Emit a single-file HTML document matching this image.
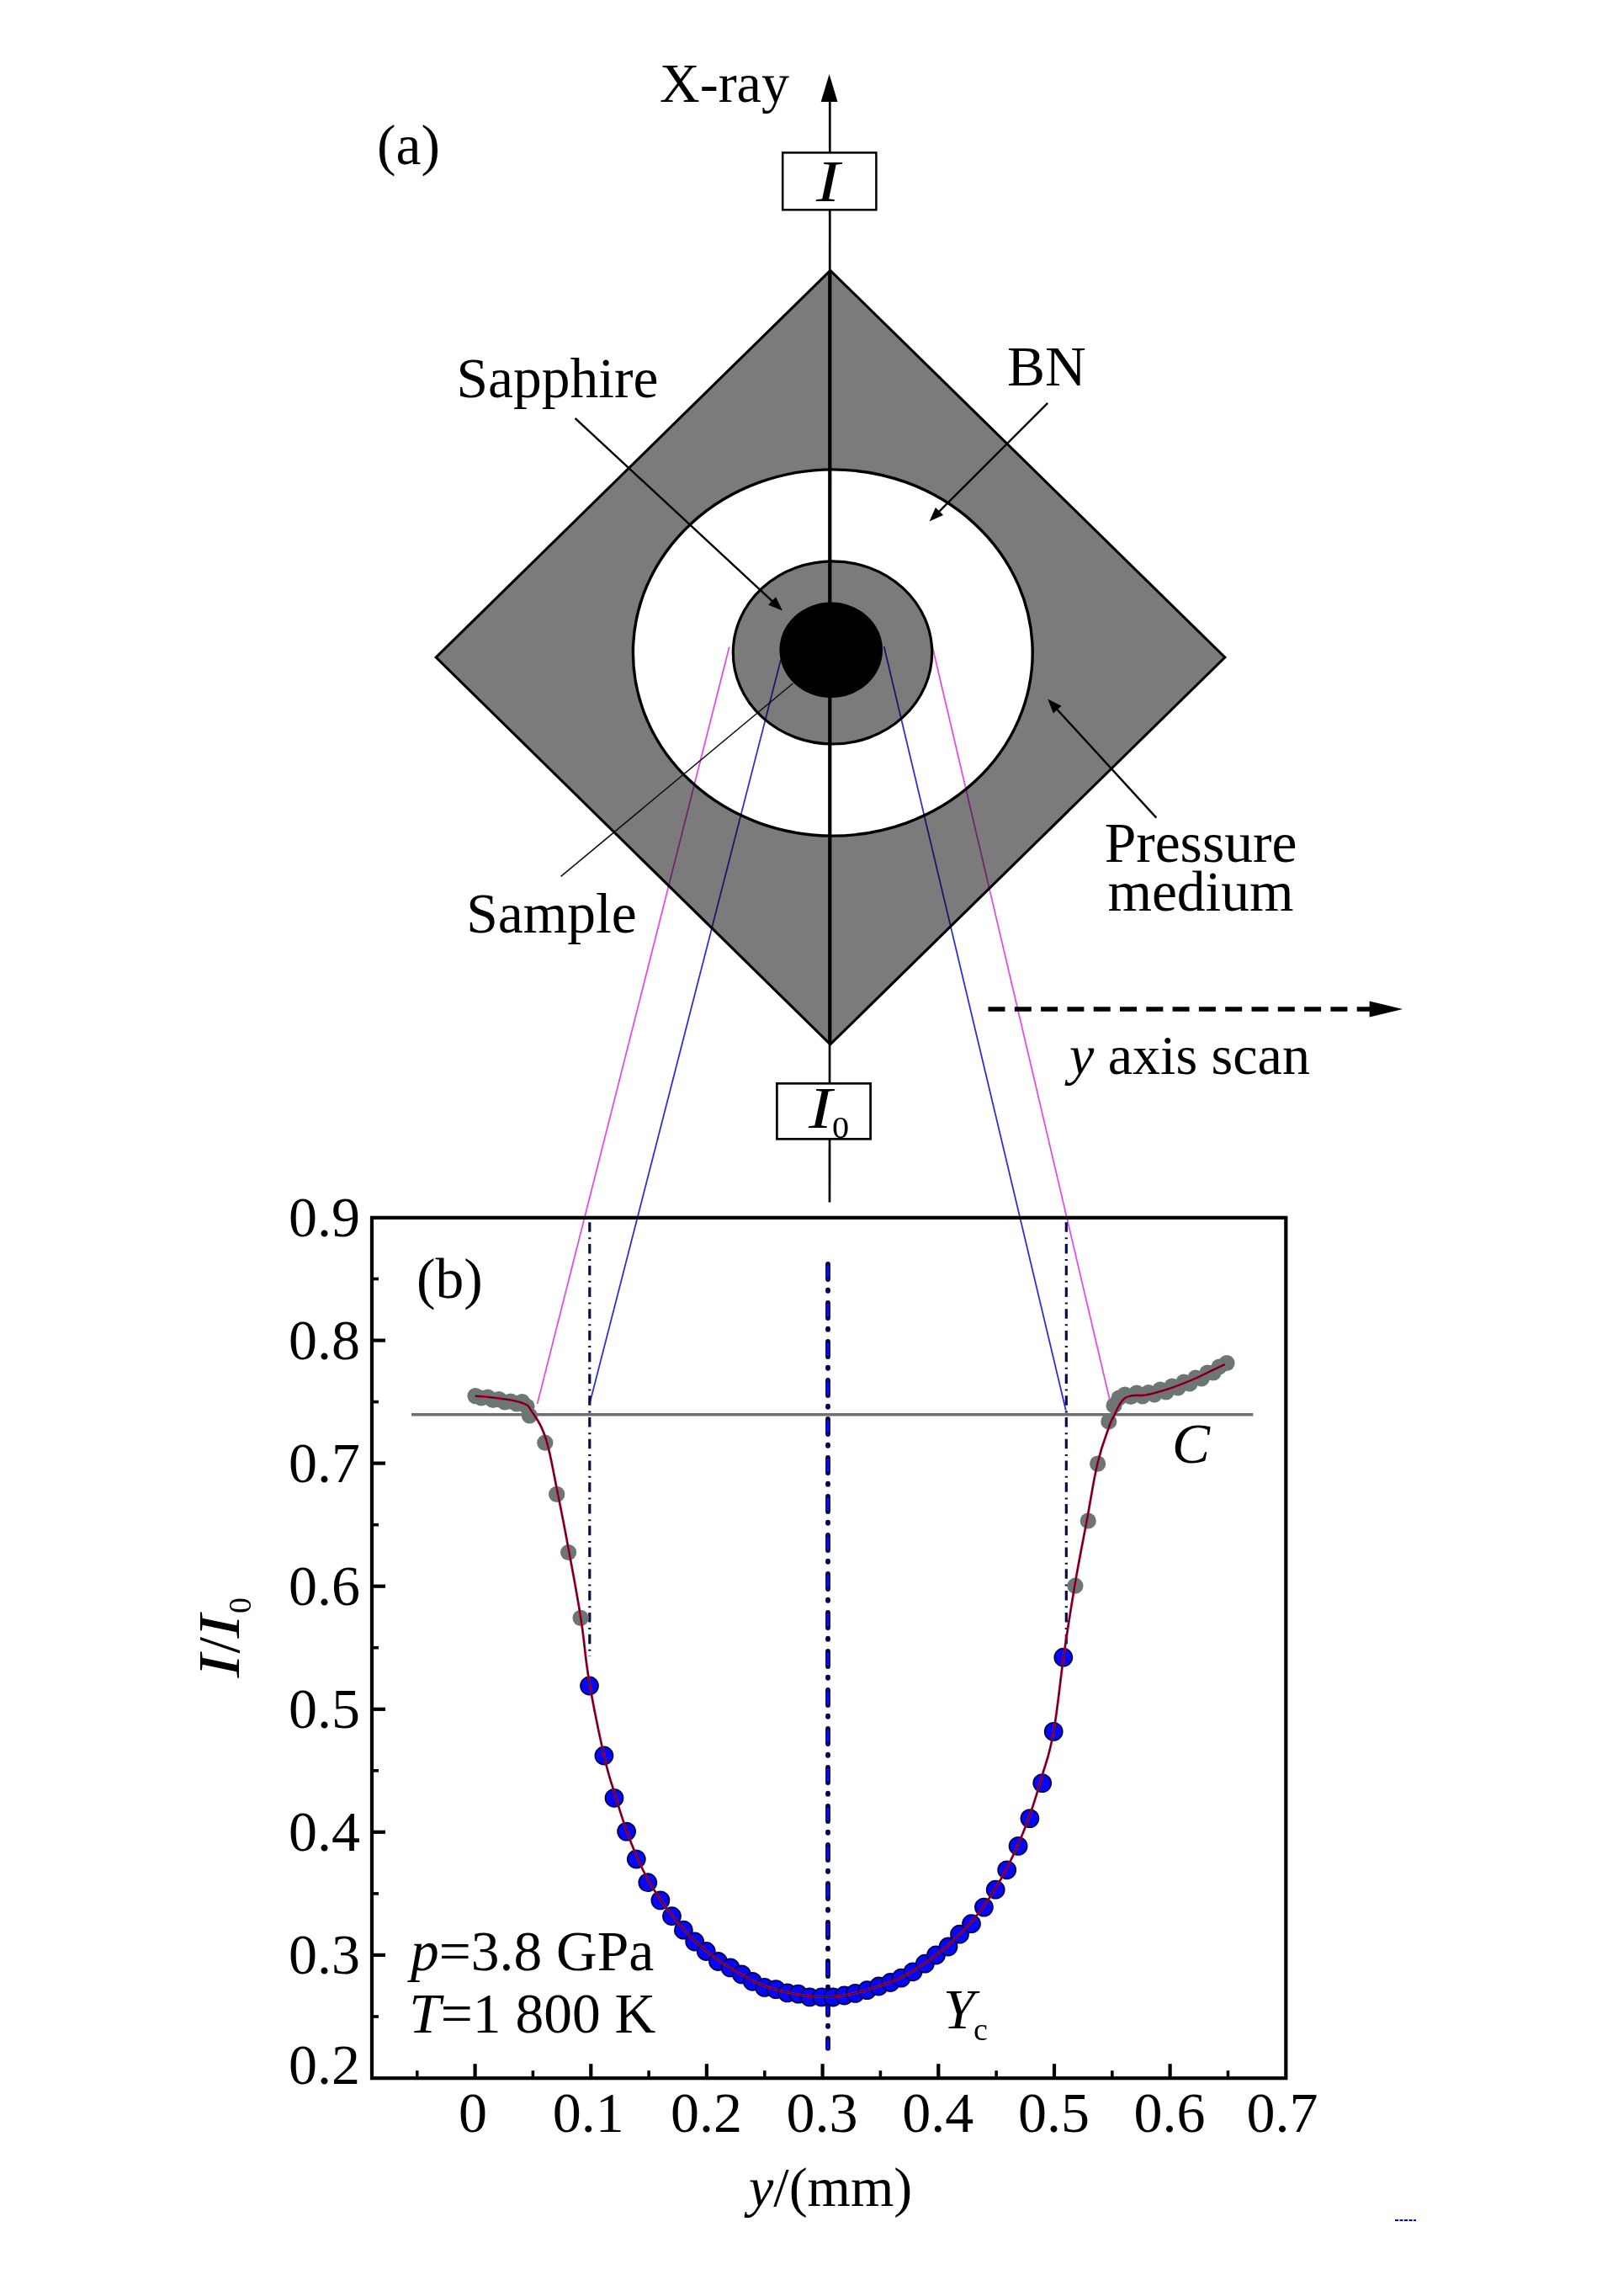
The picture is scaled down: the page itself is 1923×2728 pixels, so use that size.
<!DOCTYPE html>
<html><head><meta charset="utf-8"><title>Figure</title>
<style>html,body{margin:0;padding:0;background:#fff;}svg{display:block;}</style>
</head><body>
<svg width="1923" height="2728" viewBox="0 0 1923 2728"><polygon points="986.8,321.3 1455.8,781 986.8,1240.9 518.2,781" fill="#7b7b7b" stroke="#000" stroke-width="3.1" stroke-linejoin="miter"/>
<ellipse cx="989.8" cy="775.5" rx="237.4" ry="217.6" fill="#fff" stroke="#000" stroke-width="3.4"/>
<ellipse cx="989.5" cy="775.4" rx="118.2" ry="108.6" fill="#7b7b7b" stroke="#000" stroke-width="3.2"/>
<ellipse cx="987.7" cy="772.3" rx="61.3" ry="56.7" fill="#000"/>
<line x1="986.3" y1="110" x2="986.0" y2="1428.6" stroke="#000" stroke-width="2.7"/>
<line x1="986.3" y1="322" x2="986.3" y2="1240" stroke="#000" stroke-width="4.2"/>
<polygon points="985.6,88.1 995.5,121 975.7,121" fill="#000"/>
<rect x="930.2" y="181.4" width="111.2" height="67.9" fill="#fff" stroke="#000" stroke-width="2.5"/>
<rect x="923.4" y="1287.3" width="111.2" height="66.0" fill="#fff" stroke="#000" stroke-width="2.7"/>
<text id="xray" x="784" y="120.6" font-family="&apos;Liberation Serif&apos;, &apos;Times New Roman&apos;, serif" font-size="66">X-ray</text>
<text id="a" x="448" y="195" font-family="&apos;Liberation Serif&apos;, &apos;Times New Roman&apos;, serif" font-size="67.5">(a)</text>
<text id="Ibox" transform="translate(984,239) scale(1.2,1)" x="0" y="0" font-family="&apos;Liberation Serif&apos;, &apos;Times New Roman&apos;, serif" font-size="70" font-style="italic" text-anchor="middle">I</text>
<text id="I0I" transform="translate(961,1340.2) scale(1.2,1)" x="0" y="0" font-family="&apos;Liberation Serif&apos;, &apos;Times New Roman&apos;, serif" font-size="70" font-style="italic">I</text>
<text id="I0s" transform="translate(989,1351.9) scale(1.15,1)" x="0" y="0" font-family="&apos;Liberation Serif&apos;, &apos;Times New Roman&apos;, serif" font-size="35">0</text>
<text id="sapph" x="542.5" y="471.8" font-family="&apos;Liberation Serif&apos;, &apos;Times New Roman&apos;, serif" font-size="67.5">Sapphire</text>
<text id="bn" x="1197" y="457.6" font-family="&apos;Liberation Serif&apos;, &apos;Times New Roman&apos;, serif" font-size="67.5">BN</text>
<text id="sample" x="554.3" y="1108.1" font-family="&apos;Liberation Serif&apos;, &apos;Times New Roman&apos;, serif" font-size="67.5">Sample</text>
<text id="press" x="1427" y="1024.3" font-family="&apos;Liberation Serif&apos;, &apos;Times New Roman&apos;, serif" font-size="67.5" text-anchor="middle">Pressure</text>
<text id="medium" x="1427" y="1082.1" font-family="&apos;Liberation Serif&apos;, &apos;Times New Roman&apos;, serif" font-size="67.5" text-anchor="middle">medium</text>
<text id="yscan" x="1271" y="1276.1" font-family="&apos;Liberation Serif&apos;, &apos;Times New Roman&apos;, serif" font-size="66"><tspan font-style="italic">y</tspan> axis scan</text>
<line x1="683.6" y1="497.0" x2="919.0" y2="715.3" stroke="#000" stroke-width="2.4"/>
<polygon points="930.0,725.5 913.1,718.7 922.0,709.2" fill="#000"/>
<line x1="1245.2" y1="478.9" x2="1115.1" y2="608.9" stroke="#000" stroke-width="2.4"/>
<polygon points="1104.5,619.5 1111.9,602.9 1121.1,612.1" fill="#000"/>
<line x1="1374.3" y1="971.6" x2="1255.3" y2="841.7" stroke="#000" stroke-width="2.4"/>
<polygon points="1245.2,830.6 1261.5,838.7 1251.9,847.5" fill="#000"/>
<line x1="942.4" y1="812" x2="666.6" y2="1041.4" stroke="#111" stroke-width="1.6"/>
<line x1="1174.5" y1="1199" x2="1628" y2="1199" stroke="#000" stroke-width="5.5" stroke-dasharray="20 11.3"/>
<polygon points="1667.1,1199 1627.6,1189.6 1627.6,1208.4" fill="#000"/>
<line x1="866.7" y1="768.7" x2="638.6" y2="1668" stroke="#e050e0" stroke-width="1.8" style="mix-blend-mode:multiply"/>
<line x1="927.9" y1="784.1" x2="700.8" y2="1667.8" stroke="#3030d0" stroke-width="1.8" style="mix-blend-mode:multiply"/>
<line x1="1104.6" y1="753.2" x2="1321.3" y2="1673.5" stroke="#e050e0" stroke-width="1.8" style="mix-blend-mode:multiply"/>
<line x1="1050.6" y1="768" x2="1266.8" y2="1675.7" stroke="#3030d0" stroke-width="1.8" style="mix-blend-mode:multiply"/>
<rect x="442.0" y="1446.8" width="1086.3" height="1022.3999999999999" fill="none" stroke="#000" stroke-width="4.2"/>
<text id="yl2" x="428" y="2476" font-family="&apos;Liberation Serif&apos;, &apos;Times New Roman&apos;, serif" font-size="68" text-anchor="end">0.2</text>
<line x1="442.0" y1="2396.0" x2="450.0" y2="2396.0" stroke="#000" stroke-width="3.6"/>
<line x1="442.0" y1="2322.9" x2="458.0" y2="2322.9" stroke="#000" stroke-width="4.2"/>
<text id="yl3" x="428" y="2344.9" font-family="&apos;Liberation Serif&apos;, &apos;Times New Roman&apos;, serif" font-size="68" text-anchor="end">0.3</text>
<line x1="442.0" y1="2249.9" x2="450.0" y2="2249.9" stroke="#000" stroke-width="3.6"/>
<line x1="442.0" y1="2176.8" x2="458.0" y2="2176.8" stroke="#000" stroke-width="4.2"/>
<text id="yl4" x="428" y="2198.8" font-family="&apos;Liberation Serif&apos;, &apos;Times New Roman&apos;, serif" font-size="68" text-anchor="end">0.4</text>
<line x1="442.0" y1="2103.8" x2="450.0" y2="2103.8" stroke="#000" stroke-width="3.6"/>
<line x1="442.0" y1="2030.8" x2="458.0" y2="2030.8" stroke="#000" stroke-width="4.2"/>
<text id="yl5" x="428" y="2052.8" font-family="&apos;Liberation Serif&apos;, &apos;Times New Roman&apos;, serif" font-size="68" text-anchor="end">0.5</text>
<line x1="442.0" y1="1957.7" x2="450.0" y2="1957.7" stroke="#000" stroke-width="3.6"/>
<line x1="442.0" y1="1884.7" x2="458.0" y2="1884.7" stroke="#000" stroke-width="4.2"/>
<text id="yl6" x="428" y="1906.7" font-family="&apos;Liberation Serif&apos;, &apos;Times New Roman&apos;, serif" font-size="68" text-anchor="end">0.6</text>
<line x1="442.0" y1="1811.7" x2="450.0" y2="1811.7" stroke="#000" stroke-width="3.6"/>
<line x1="442.0" y1="1738.6" x2="458.0" y2="1738.6" stroke="#000" stroke-width="4.2"/>
<text id="yl7" x="428" y="1760.6" font-family="&apos;Liberation Serif&apos;, &apos;Times New Roman&apos;, serif" font-size="68" text-anchor="end">0.7</text>
<line x1="442.0" y1="1665.6" x2="450.0" y2="1665.6" stroke="#000" stroke-width="3.6"/>
<line x1="442.0" y1="1592.6" x2="458.0" y2="1592.6" stroke="#000" stroke-width="4.2"/>
<text id="yl8" x="428" y="1614.6" font-family="&apos;Liberation Serif&apos;, &apos;Times New Roman&apos;, serif" font-size="68" text-anchor="end">0.8</text>
<line x1="442.0" y1="1519.5" x2="450.0" y2="1519.5" stroke="#000" stroke-width="3.6"/>
<text id="yl9" x="428" y="1468.5" font-family="&apos;Liberation Serif&apos;, &apos;Times New Roman&apos;, serif" font-size="68" text-anchor="end">0.9</text>
<line x1="564.6" y1="2469.2" x2="564.6" y2="2452.2" stroke="#000" stroke-width="4.2"/>
<text id="xl0" x="561.9" y="2533" font-family="&apos;Liberation Serif&apos;, &apos;Times New Roman&apos;, serif" font-size="68" text-anchor="middle">0</text>
<line x1="702.3" y1="2469.2" x2="702.3" y2="2452.2" stroke="#000" stroke-width="4.2"/>
<text id="xl1" x="699.3" y="2533" font-family="&apos;Liberation Serif&apos;, &apos;Times New Roman&apos;, serif" font-size="68" text-anchor="middle">0.1</text>
<line x1="839.9" y1="2469.2" x2="839.9" y2="2452.2" stroke="#000" stroke-width="4.2"/>
<text id="xl2" x="839.4" y="2533" font-family="&apos;Liberation Serif&apos;, &apos;Times New Roman&apos;, serif" font-size="68" text-anchor="middle">0.2</text>
<line x1="977.6" y1="2469.2" x2="977.6" y2="2452.2" stroke="#000" stroke-width="4.2"/>
<text id="xl3" x="977.1" y="2533" font-family="&apos;Liberation Serif&apos;, &apos;Times New Roman&apos;, serif" font-size="68" text-anchor="middle">0.3</text>
<line x1="1115.3" y1="2469.2" x2="1115.3" y2="2452.2" stroke="#000" stroke-width="4.2"/>
<text id="xl4" x="1114.8" y="2533" font-family="&apos;Liberation Serif&apos;, &apos;Times New Roman&apos;, serif" font-size="68" text-anchor="middle">0.4</text>
<line x1="1253.0" y1="2469.2" x2="1253.0" y2="2452.2" stroke="#000" stroke-width="4.2"/>
<text id="xl5" x="1252.5" y="2533" font-family="&apos;Liberation Serif&apos;, &apos;Times New Roman&apos;, serif" font-size="68" text-anchor="middle">0.5</text>
<line x1="1390.6" y1="2469.2" x2="1390.6" y2="2452.2" stroke="#000" stroke-width="4.2"/>
<text id="xl6" x="1390.1" y="2533" font-family="&apos;Liberation Serif&apos;, &apos;Times New Roman&apos;, serif" font-size="68" text-anchor="middle">0.6</text>
<text id="xl7" x="1523.9" y="2533" font-family="&apos;Liberation Serif&apos;, &apos;Times New Roman&apos;, serif" font-size="68" text-anchor="middle">0.7</text>
<line x1="495.8" y1="2469.2" x2="495.8" y2="2460.2" stroke="#000" stroke-width="3.6"/>
<line x1="633.4" y1="2469.2" x2="633.4" y2="2460.2" stroke="#000" stroke-width="3.6"/>
<line x1="771.1" y1="2469.2" x2="771.1" y2="2460.2" stroke="#000" stroke-width="3.6"/>
<line x1="908.8" y1="2469.2" x2="908.8" y2="2460.2" stroke="#000" stroke-width="3.6"/>
<line x1="1046.4" y1="2469.2" x2="1046.4" y2="2460.2" stroke="#000" stroke-width="3.6"/>
<line x1="1184.1" y1="2469.2" x2="1184.1" y2="2460.2" stroke="#000" stroke-width="3.6"/>
<line x1="1321.8" y1="2469.2" x2="1321.8" y2="2460.2" stroke="#000" stroke-width="3.6"/>
<line x1="1459.5" y1="2469.2" x2="1459.5" y2="2460.2" stroke="#000" stroke-width="3.6"/>
<line x1="489" y1="1680.7" x2="1489.3" y2="1680.7" stroke="#6f6f6f" stroke-width="3.6"/>
<line x1="700.8" y1="1452.2" x2="700.8" y2="1968" stroke="#0c0c48" stroke-width="3.2" stroke-dasharray="11.5 6.6 2 5.66"/>
<line x1="1267.3" y1="1452.2" x2="1267.3" y2="1958" stroke="#0c0c48" stroke-width="3.2" stroke-dasharray="11.5 6.6 2 5.66"/>
<line x1="984.0" y1="1501.8" x2="984.0" y2="2433.7" stroke="#00004a" stroke-width="5.8" stroke-linecap="round" stroke-dasharray="18.2 12.6 1.2 14"/>
<line x1="984.0" y1="1501.8" x2="984.0" y2="2433.7" stroke="#0a0af0" stroke-width="3.4" stroke-linecap="round" stroke-dasharray="13 33" stroke-dashoffset="-2.6"/>
<circle cx="565" cy="1658.6" r="9.6" fill="#6d7575"/>
<circle cx="572" cy="1661" r="9.6" fill="#6d7575"/>
<circle cx="579.7" cy="1660" r="9.6" fill="#6d7575"/>
<circle cx="586" cy="1663.5" r="9.6" fill="#6d7575"/>
<circle cx="593" cy="1662.6" r="9.6" fill="#6d7575"/>
<circle cx="600" cy="1666" r="9.6" fill="#6d7575"/>
<circle cx="607" cy="1665" r="9.6" fill="#6d7575"/>
<circle cx="614" cy="1668" r="9.6" fill="#6d7575"/>
<circle cx="620.5" cy="1665.5" r="9.6" fill="#6d7575"/>
<circle cx="626" cy="1671" r="9.6" fill="#6d7575"/>
<circle cx="629.4" cy="1682" r="9.6" fill="#6d7575"/>
<circle cx="647.8" cy="1714.2" r="9.6" fill="#6d7575"/>
<circle cx="661.7" cy="1775.4" r="9.6" fill="#6d7575"/>
<circle cx="675.6" cy="1844.5" r="9.6" fill="#6d7575"/>
<circle cx="690.1" cy="1922.4" r="9.6" fill="#6d7575"/>
<circle cx="1277.9" cy="1884.2" r="9.6" fill="#6d7575"/>
<circle cx="1293.2" cy="1807" r="9.6" fill="#6d7575"/>
<circle cx="1304.6" cy="1739.1" r="9.6" fill="#6d7575"/>
<circle cx="1317.8" cy="1689" r="9.6" fill="#6d7575"/>
<circle cx="1324" cy="1670" r="9.6" fill="#6d7575"/>
<circle cx="1330" cy="1661" r="9.6" fill="#6d7575"/>
<circle cx="1337" cy="1657" r="9.6" fill="#6d7575"/>
<circle cx="1344" cy="1659.5" r="9.6" fill="#6d7575"/>
<circle cx="1351" cy="1655" r="9.6" fill="#6d7575"/>
<circle cx="1358" cy="1659" r="9.6" fill="#6d7575"/>
<circle cx="1365" cy="1654.5" r="9.6" fill="#6d7575"/>
<circle cx="1372" cy="1657" r="9.6" fill="#6d7575"/>
<circle cx="1379" cy="1651" r="9.6" fill="#6d7575"/>
<circle cx="1386" cy="1654" r="9.6" fill="#6d7575"/>
<circle cx="1393" cy="1647" r="9.6" fill="#6d7575"/>
<circle cx="1400" cy="1649" r="9.6" fill="#6d7575"/>
<circle cx="1407" cy="1642" r="9.6" fill="#6d7575"/>
<circle cx="1414" cy="1644" r="9.6" fill="#6d7575"/>
<circle cx="1421" cy="1637" r="9.6" fill="#6d7575"/>
<circle cx="1428" cy="1638" r="9.6" fill="#6d7575"/>
<circle cx="1435" cy="1631" r="9.6" fill="#6d7575"/>
<circle cx="1442" cy="1631" r="9.6" fill="#6d7575"/>
<circle cx="1449" cy="1624" r="9.6" fill="#6d7575"/>
<circle cx="1458" cy="1619.5" r="9.6" fill="#6d7575"/>
<circle cx="700.5" cy="2003.0" r="10.5" fill="#0606fa" stroke="#000058" stroke-width="1.8"/>
<circle cx="717.9" cy="2086.0" r="10.5" fill="#0606fa" stroke="#000058" stroke-width="1.8"/>
<circle cx="730.0" cy="2136.3" r="10.5" fill="#0606fa" stroke="#000058" stroke-width="1.8"/>
<circle cx="744.6" cy="2176.1" r="10.5" fill="#0606fa" stroke="#000058" stroke-width="1.8"/>
<circle cx="756.3" cy="2209.0" r="10.5" fill="#0606fa" stroke="#000058" stroke-width="1.8"/>
<circle cx="769.8" cy="2236.7" r="10.5" fill="#0606fa" stroke="#000058" stroke-width="1.8"/>
<circle cx="784.9" cy="2257.9" r="10.5" fill="#0606fa" stroke="#000058" stroke-width="1.8"/>
<circle cx="798.5" cy="2276.7" r="10.5" fill="#0606fa" stroke="#000058" stroke-width="1.8"/>
<circle cx="812.4" cy="2293.2" r="10.5" fill="#0606fa" stroke="#000058" stroke-width="1.8"/>
<circle cx="825.7" cy="2307.0" r="10.5" fill="#0606fa" stroke="#000058" stroke-width="1.8"/>
<circle cx="839.3" cy="2318.5" r="10.5" fill="#0606fa" stroke="#000058" stroke-width="1.8"/>
<circle cx="853.5" cy="2330.5" r="10.5" fill="#0606fa" stroke="#000058" stroke-width="1.8"/>
<circle cx="868.0" cy="2337.9" r="10.5" fill="#0606fa" stroke="#000058" stroke-width="1.8"/>
<circle cx="881.4" cy="2345.9" r="10.5" fill="#0606fa" stroke="#000058" stroke-width="1.8"/>
<circle cx="894.3" cy="2354.3" r="10.5" fill="#0606fa" stroke="#000058" stroke-width="1.8"/>
<circle cx="908.6" cy="2361.4" r="10.5" fill="#0606fa" stroke="#000058" stroke-width="1.8"/>
<circle cx="922.2" cy="2363.6" r="10.5" fill="#0606fa" stroke="#000058" stroke-width="1.8"/>
<circle cx="935.7" cy="2367.9" r="10.5" fill="#0606fa" stroke="#000058" stroke-width="1.8"/>
<circle cx="948.7" cy="2369.2" r="10.5" fill="#0606fa" stroke="#000058" stroke-width="1.8"/>
<circle cx="962.3" cy="2372.9" r="10.5" fill="#0606fa" stroke="#000058" stroke-width="1.8"/>
<circle cx="976.5" cy="2372.9" r="10.5" fill="#0606fa" stroke="#000058" stroke-width="1.8"/>
<circle cx="990.0" cy="2373.0" r="10.5" fill="#0606fa" stroke="#000058" stroke-width="1.8"/>
<circle cx="1003.5" cy="2371.0" r="10.5" fill="#0606fa" stroke="#000058" stroke-width="1.8"/>
<circle cx="1016.5" cy="2368.4" r="10.5" fill="#0606fa" stroke="#000058" stroke-width="1.8"/>
<circle cx="1030.5" cy="2364.7" r="10.5" fill="#0606fa" stroke="#000058" stroke-width="1.8"/>
<circle cx="1044.4" cy="2360.0" r="10.5" fill="#0606fa" stroke="#000058" stroke-width="1.8"/>
<circle cx="1058.3" cy="2355.5" r="10.5" fill="#0606fa" stroke="#000058" stroke-width="1.8"/>
<circle cx="1071.0" cy="2350.2" r="10.5" fill="#0606fa" stroke="#000058" stroke-width="1.8"/>
<circle cx="1085.0" cy="2342.8" r="10.5" fill="#0606fa" stroke="#000058" stroke-width="1.8"/>
<circle cx="1099.3" cy="2333.2" r="10.5" fill="#0606fa" stroke="#000058" stroke-width="1.8"/>
<circle cx="1112.5" cy="2323.0" r="10.5" fill="#0606fa" stroke="#000058" stroke-width="1.8"/>
<circle cx="1127.0" cy="2313.0" r="10.5" fill="#0606fa" stroke="#000058" stroke-width="1.8"/>
<circle cx="1140.5" cy="2298.2" r="10.5" fill="#0606fa" stroke="#000058" stroke-width="1.8"/>
<circle cx="1154.5" cy="2285.7" r="10.5" fill="#0606fa" stroke="#000058" stroke-width="1.8"/>
<circle cx="1169.4" cy="2266.1" r="10.5" fill="#0606fa" stroke="#000058" stroke-width="1.8"/>
<circle cx="1183.2" cy="2245.2" r="10.5" fill="#0606fa" stroke="#000058" stroke-width="1.8"/>
<circle cx="1196.7" cy="2221.8" r="10.5" fill="#0606fa" stroke="#000058" stroke-width="1.8"/>
<circle cx="1210.1" cy="2193.4" r="10.5" fill="#0606fa" stroke="#000058" stroke-width="1.8"/>
<circle cx="1223.9" cy="2160.6" r="10.5" fill="#0606fa" stroke="#000058" stroke-width="1.8"/>
<circle cx="1238.7" cy="2118.6" r="10.5" fill="#0606fa" stroke="#000058" stroke-width="1.8"/>
<circle cx="1252.2" cy="2057.4" r="10.5" fill="#0606fa" stroke="#000058" stroke-width="1.8"/>
<circle cx="1263.8" cy="1969.2" r="10.5" fill="#0606fa" stroke="#000058" stroke-width="1.8"/>
<path d="M564.8,1658.6 C570.4,1659.2 581.7,1659.8 593.0,1661.5 C604.3,1663.2 613.3,1663.9 621.2,1667.1 C629.1,1670.3 626.8,1669.1 632.3,1677.5 C637.8,1685.9 642.6,1690.1 648.6,1709.0 C654.6,1727.9 657.0,1745.8 662.4,1772.0 C667.8,1798.2 670.0,1809.6 675.6,1840.0 C681.2,1870.4 685.6,1892.4 690.5,1924.0 C695.4,1955.6 694.8,1965.6 700.3,1998.0 C705.8,2030.4 711.8,2059.2 717.9,2086.0 C724.0,2112.8 725.6,2114.6 730.8,2131.9 C735.9,2149.2 738.6,2157.7 743.8,2172.5 C749.0,2187.4 751.6,2194.0 756.9,2206.2 C762.2,2218.5 764.9,2223.7 770.4,2233.8 C775.9,2243.8 778.8,2248.1 784.5,2256.4 C790.1,2264.8 792.9,2268.4 798.5,2275.5 C804.0,2282.6 806.7,2285.8 812.2,2291.9 C817.7,2298.0 820.3,2300.7 825.8,2306.0 C831.3,2311.3 834.0,2313.7 839.6,2318.3 C845.1,2322.8 848.0,2324.9 853.6,2328.8 C859.2,2332.8 862.0,2334.4 867.6,2337.9 C873.1,2341.3 875.8,2342.9 881.2,2346.0 C886.7,2349.1 889.3,2350.8 894.8,2353.5 C900.2,2356.3 903.0,2357.5 908.4,2359.6 C913.9,2361.7 916.7,2362.4 922.1,2363.9 C927.5,2365.4 930.2,2365.9 935.5,2367.1 C940.9,2368.2 943.5,2368.8 948.9,2369.7 C954.3,2370.6 957.0,2371.1 962.5,2371.7 C968.0,2372.2 970.8,2372.5 976.3,2372.6 C981.8,2372.7 984.5,2372.6 989.9,2372.2 C995.3,2371.8 998.0,2371.4 1003.4,2370.6 C1008.8,2369.7 1011.4,2369.1 1016.8,2367.9 C1022.3,2366.6 1025.0,2365.9 1030.5,2364.3 C1036.0,2362.7 1038.8,2361.8 1044.3,2360.0 C1049.8,2358.1 1052.5,2357.2 1057.9,2355.1 C1063.4,2352.9 1066.0,2351.9 1071.4,2349.2 C1076.9,2346.6 1079.6,2345.1 1085.1,2341.8 C1090.6,2338.5 1093.4,2336.7 1099.0,2332.9 C1104.5,2329.0 1107.3,2327.0 1112.9,2322.7 C1118.4,2318.4 1121.2,2316.2 1126.7,2311.4 C1132.3,2306.5 1135.1,2304.0 1140.7,2298.3 C1146.3,2292.7 1149.1,2289.8 1154.8,2283.1 C1160.5,2276.4 1163.4,2272.9 1169.0,2265.0 C1174.7,2257.2 1177.5,2253.0 1183.0,2243.9 C1188.5,2234.8 1191.2,2230.1 1196.7,2219.5 C1202.1,2208.9 1204.8,2203.6 1210.3,2190.9 C1215.8,2178.1 1218.6,2171.7 1224.2,2155.7 C1229.8,2139.7 1232.7,2130.5 1238.3,2110.8 C1243.9,2091.2 1246.9,2087.2 1252.2,2057.4 C1257.5,2027.6 1259.8,1997.5 1265.0,1962.0 C1270.2,1926.5 1272.6,1911.4 1278.0,1880.0 C1283.4,1848.6 1286.7,1833.4 1292.0,1805.0 C1297.3,1776.6 1299.4,1759.9 1304.6,1738.0 C1309.8,1716.1 1314.1,1706.8 1318.0,1695.7 C1321.9,1684.6 1320.8,1688.5 1323.9,1682.3 C1327.0,1676.1 1329.4,1669.4 1333.5,1664.6 C1337.6,1659.8 1338.7,1659.9 1344.5,1658.4 C1350.3,1656.9 1353.4,1659.0 1362.3,1657.3 C1371.2,1655.6 1378.1,1653.7 1389.0,1650.1 C1399.9,1646.5 1406.8,1643.7 1416.8,1639.5 C1426.8,1635.3 1431.3,1632.6 1439.1,1628.9 C1446.9,1625.2 1452.4,1622.7 1455.7,1621.1" fill="none" stroke="#c8003a" stroke-width="2.8" stroke-linejoin="round"/>
<path d="M564.8,1658.6 C570.4,1659.2 581.7,1659.8 593.0,1661.5 C604.3,1663.2 613.3,1663.9 621.2,1667.1 C629.1,1670.3 626.8,1669.1 632.3,1677.5 C637.8,1685.9 642.6,1690.1 648.6,1709.0 C654.6,1727.9 657.0,1745.8 662.4,1772.0 C667.8,1798.2 670.0,1809.6 675.6,1840.0 C681.2,1870.4 685.6,1892.4 690.5,1924.0 C695.4,1955.6 694.8,1965.6 700.3,1998.0 C705.8,2030.4 711.8,2059.2 717.9,2086.0 C724.0,2112.8 725.6,2114.6 730.8,2131.9 C735.9,2149.2 738.6,2157.7 743.8,2172.5 C749.0,2187.4 751.6,2194.0 756.9,2206.2 C762.2,2218.5 764.9,2223.7 770.4,2233.8 C775.9,2243.8 778.8,2248.1 784.5,2256.4 C790.1,2264.8 792.9,2268.4 798.5,2275.5 C804.0,2282.6 806.7,2285.8 812.2,2291.9 C817.7,2298.0 820.3,2300.7 825.8,2306.0 C831.3,2311.3 834.0,2313.7 839.6,2318.3 C845.1,2322.8 848.0,2324.9 853.6,2328.8 C859.2,2332.8 862.0,2334.4 867.6,2337.9 C873.1,2341.3 875.8,2342.9 881.2,2346.0 C886.7,2349.1 889.3,2350.8 894.8,2353.5 C900.2,2356.3 903.0,2357.5 908.4,2359.6 C913.9,2361.7 916.7,2362.4 922.1,2363.9 C927.5,2365.4 930.2,2365.9 935.5,2367.1 C940.9,2368.2 943.5,2368.8 948.9,2369.7 C954.3,2370.6 957.0,2371.1 962.5,2371.7 C968.0,2372.2 970.8,2372.5 976.3,2372.6 C981.8,2372.7 984.5,2372.6 989.9,2372.2 C995.3,2371.8 998.0,2371.4 1003.4,2370.6 C1008.8,2369.7 1011.4,2369.1 1016.8,2367.9 C1022.3,2366.6 1025.0,2365.9 1030.5,2364.3 C1036.0,2362.7 1038.8,2361.8 1044.3,2360.0 C1049.8,2358.1 1052.5,2357.2 1057.9,2355.1 C1063.4,2352.9 1066.0,2351.9 1071.4,2349.2 C1076.9,2346.6 1079.6,2345.1 1085.1,2341.8 C1090.6,2338.5 1093.4,2336.7 1099.0,2332.9 C1104.5,2329.0 1107.3,2327.0 1112.9,2322.7 C1118.4,2318.4 1121.2,2316.2 1126.7,2311.4 C1132.3,2306.5 1135.1,2304.0 1140.7,2298.3 C1146.3,2292.7 1149.1,2289.8 1154.8,2283.1 C1160.5,2276.4 1163.4,2272.9 1169.0,2265.0 C1174.7,2257.2 1177.5,2253.0 1183.0,2243.9 C1188.5,2234.8 1191.2,2230.1 1196.7,2219.5 C1202.1,2208.9 1204.8,2203.6 1210.3,2190.9 C1215.8,2178.1 1218.6,2171.7 1224.2,2155.7 C1229.8,2139.7 1232.7,2130.5 1238.3,2110.8 C1243.9,2091.2 1246.9,2087.2 1252.2,2057.4 C1257.5,2027.6 1259.8,1997.5 1265.0,1962.0 C1270.2,1926.5 1272.6,1911.4 1278.0,1880.0 C1283.4,1848.6 1286.7,1833.4 1292.0,1805.0 C1297.3,1776.6 1299.4,1759.9 1304.6,1738.0 C1309.8,1716.1 1314.1,1706.8 1318.0,1695.7 C1321.9,1684.6 1320.8,1688.5 1323.9,1682.3 C1327.0,1676.1 1329.4,1669.4 1333.5,1664.6 C1337.6,1659.8 1338.7,1659.9 1344.5,1658.4 C1350.3,1656.9 1353.4,1659.0 1362.3,1657.3 C1371.2,1655.6 1378.1,1653.7 1389.0,1650.1 C1399.9,1646.5 1406.8,1643.7 1416.8,1639.5 C1426.8,1635.3 1431.3,1632.6 1439.1,1628.9 C1446.9,1625.2 1452.4,1622.7 1455.7,1621.1" fill="none" stroke="#3a0014" stroke-width="1.2" stroke-linejoin="round"/>
<text id="b" x="495" y="1542" font-family="&apos;Liberation Serif&apos;, &apos;Times New Roman&apos;, serif" font-size="67.5">(b)</text>
<text id="C" x="1393" y="1738" font-family="&apos;Liberation Serif&apos;, &apos;Times New Roman&apos;, serif" font-size="67.5" font-style="italic">C</text>
<text id="pl" x="488" y="2341.2" font-family="&apos;Liberation Serif&apos;, &apos;Times New Roman&apos;, serif" font-size="67.5"><tspan font-style="italic">p</tspan>=3.8 GPa</text>
<text id="Tl" x="486.2" y="2415.3" font-family="&apos;Liberation Serif&apos;, &apos;Times New Roman&apos;, serif" font-size="67.5"><tspan font-style="italic">T</tspan>=1 800 K</text>
<text id="Y" x="1121" y="2409.7" font-family="&apos;Liberation Serif&apos;, &apos;Times New Roman&apos;, serif" font-size="67.5" font-style="italic">Y</text>
<text id="Yc" x="1157" y="2423.9" font-family="&apos;Liberation Serif&apos;, &apos;Times New Roman&apos;, serif" font-size="38">c</text>
<text id="ymm" x="890" y="2621" font-family="&apos;Liberation Serif&apos;, &apos;Times New Roman&apos;, serif" font-size="66"><tspan font-style="italic">y</tspan>/(mm)</text>
<g id="ylab" transform="translate(284,1995.5) rotate(-90)"><text transform="translate(2,0) scale(1.2,1)" font-family="&apos;Liberation Serif&apos;, &apos;Times New Roman&apos;, serif" font-size="70" font-style="italic">I</text><text x="31" y="0" font-family="&apos;Liberation Serif&apos;, &apos;Times New Roman&apos;, serif" font-size="70">/</text><text transform="translate(49,0) scale(1.2,1)" font-family="&apos;Liberation Serif&apos;, &apos;Times New Roman&apos;, serif" font-size="70" font-style="italic">I</text><text x="78.5" y="14" font-family="&apos;Liberation Serif&apos;, &apos;Times New Roman&apos;, serif" font-size="38">0</text></g>
<line x1="1658" y1="2638" x2="1683" y2="2638" stroke="#0000d0" stroke-width="2" stroke-dasharray="4 1.5"/></svg>
</body></html>
